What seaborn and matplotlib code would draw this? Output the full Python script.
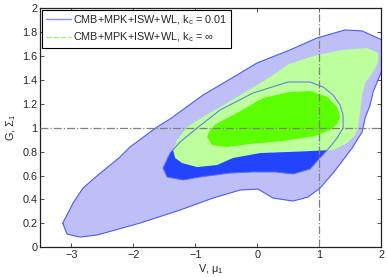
import matplotlib
matplotlib.use("Agg")
import matplotlib.pyplot as plt
import seaborn as sns
import pandas as pd

#-------------------
# contour outlines (V/mu_1 , G/Sigma_1)
#-------------------

# k_c = 0.01, 95% region
kc001_95_v = [-3.139, -2.973, -2.811, -2.569, -2.215, -2.053, -1.618, -1.408, -0.876, -0.327,
              -0.005, 0.527, 0.963, 1.415, 1.689, 2.011, 2.011, 1.866, 1.818, 1.737,
              1.689, 1.527, 1.382, 1.221, 1.011, 0.818, 0.576, 0.253, 0.011, -0.279,
              -0.715, -1.247, -1.892, -2.585, -2.860, -3.069]
kc001_95_g = [0.201, 0.370, 0.496, 0.605, 0.755, 0.839, 1.006, 1.073, 1.273, 1.441,
              1.541, 1.650, 1.750, 1.817, 1.809, 1.733, 1.482, 1.298, 1.190, 1.081,
              0.964, 0.830, 0.730, 0.621, 0.496, 0.421, 0.387, 0.412, 0.487, 0.479,
              0.412, 0.312, 0.203, 0.103, 0.086, 0.111]

# k_c = 0.01, 68% region
kc001_68_v = [-1.521, -1.408, -1.247, -0.973, -0.602, -0.069, 0.495, 0.850, 1.060, 1.221,
              1.334, 1.382, 1.382, 1.285, 1.156, 0.979, 0.850, 0.576, 0.285, -0.069,
              -0.440, -0.924, -1.198, -1.456]
kc001_68_g = [0.663, 0.788, 0.880, 0.997, 1.148, 1.290, 1.382, 1.382, 1.340, 1.273,
              1.190, 1.106, 0.997, 0.914, 0.830, 0.730, 0.655, 0.613, 0.630, 0.630,
              0.621, 0.588, 0.563, 0.588]

# k_c = inf, 95% region
kcinf_95_v = [-1.360, -1.295, -1.134, -0.876, -0.602, -0.327, -0.005, 0.205, 0.511, 0.963,
              1.382, 1.769, 1.947, 1.947, 1.866, 1.737, 1.689, 1.656, 1.624, 1.576,
              1.447, 1.221, 0.689, 0.044, -0.392, -0.650, -0.973, -1.215, -1.327]
kcinf_95_g = [0.814, 0.897, 1.006, 1.089, 1.173, 1.257, 1.357, 1.424, 1.533, 1.608,
              1.650, 1.666, 1.625, 1.549, 1.466, 1.374, 1.273, 1.131, 0.997, 0.939,
              0.872, 0.814, 0.801, 0.788, 0.747, 0.688, 0.671, 0.705, 0.747]

# k_c = inf, 68% region
kcinf_68_v = [-0.811, -0.763, -0.666, -0.327, 0.092, 0.527, 0.850, 1.124, 1.285, 1.334,
              1.285, 1.173, 0.931, 0.415, -0.118, -0.489, -0.731]
kcinf_68_g = [0.922, 0.981, 1.031, 1.123, 1.248, 1.298, 1.307, 1.257, 1.173, 1.089,
              1.031, 0.981, 0.931, 0.889, 0.864, 0.839, 0.855]

labels = ["CMB+MPK+ISW+WL, k$_c$ = 0.01", "CMB+MPK+ISW+WL, k$_c$ = $\\infty$"]
x_ticks = [-3, -2, -1, 0, 1, 2]
y_ticks = [0, 0.2, 0.4, 0.6, 0.8, 1, 1.2, 1.4, 1.6, 1.8, 2]
y_ticklabels = ["0", "0.2", "0.4", "0.6", "0.8", "1", "1.2", "1.4", "1.6", "1.8", "2"]

#-------------------
# plot
#-------------------

sns.set_theme(style="ticks")
plt.rcParams['font.family'] = ['Liberation Sans', 'DejaVu Sans']
plt.rcParams['mathtext.default'] = 'regular'
plt.rcParams['xtick.direction'] = 'in'
plt.rcParams['ytick.direction'] = 'in'

fig = plt.figure(figsize=(3.88, 2.77), dpi=100)
ax = fig.add_axes([0.104, 0.107, 0.879, 0.864])

def closed(v, g):
    return pd.DataFrame({"v": list(v) + [v[0]], "g": list(g) + [g[0]]})

ax.fill(kc001_95_v, kc001_95_g, color="#bfbff7", lw=0, zorder=1)
sns.lineplot(data=closed(kc001_95_v, kc001_95_g), x="v", y="g", sort=False,
             estimator=None, color="#4a5cf5", lw=0.8, ax=ax, zorder=2)
ax.fill(kc001_68_v, kc001_68_g, color="#2244ff", lw=0, zorder=3)
ax.fill(kcinf_95_v, kcinf_95_g, color="#bcff9c", lw=0, zorder=4)
ax.fill(kcinf_68_v, kcinf_68_g, color="#5cff00", lw=0, zorder=5)
sns.lineplot(data=closed(kc001_68_v, kc001_68_g), x="v", y="g", sort=False,
             estimator=None, color="#5a6ef0", lw=0.7, ax=ax, zorder=6)

ax.axhline(1, color="#808080", lw=0.9, ls="-.", zorder=7)
ax.axvline(1, color="#808080", lw=0.9, ls="-.", zorder=7)

# legend proxies
ax.plot([], [], color="#8093ff", lw=1.0, label=labels[0])
ax.plot([], [], color="#9cf56a", lw=1.0, ls="--", label=labels[1])
leg = ax.legend(loc="upper left", fontsize=7.8, frameon=True, fancybox=False,
                framealpha=1, edgecolor="black", borderaxespad=0.15,
                handlelength=2.3, handletextpad=0.2, labelspacing=0.35,
                borderpad=0.35)
leg.get_frame().set_linewidth(0.8)
leg.set_zorder(10)

ax.set_xlim(-3.5, 2)
ax.set_ylim(0, 2)
ax.set_xticks(x_ticks)
ax.set_xticklabels(["\u22123", "\u22122", "\u22121", "0", "1", "2"])
ax.set_yticks(y_ticks)
ax.set_yticklabels(y_ticklabels)
ax.tick_params(axis="both", labelsize=7.8, length=3, width=0.6, pad=2,
               top=True, right=True, color="#333333")
ax.set_xlabel("V, $\\mu_1$", fontsize=7.8, labelpad=1)
ax.set_ylabel("G, $\\Sigma_1$", fontsize=7.8, labelpad=3)
for sp in ax.spines.values():
    sp.set_linewidth(0.9)
    sp.set_color("#222222")
ax.grid(False)

fig.savefig("out.png", dpi=100)
